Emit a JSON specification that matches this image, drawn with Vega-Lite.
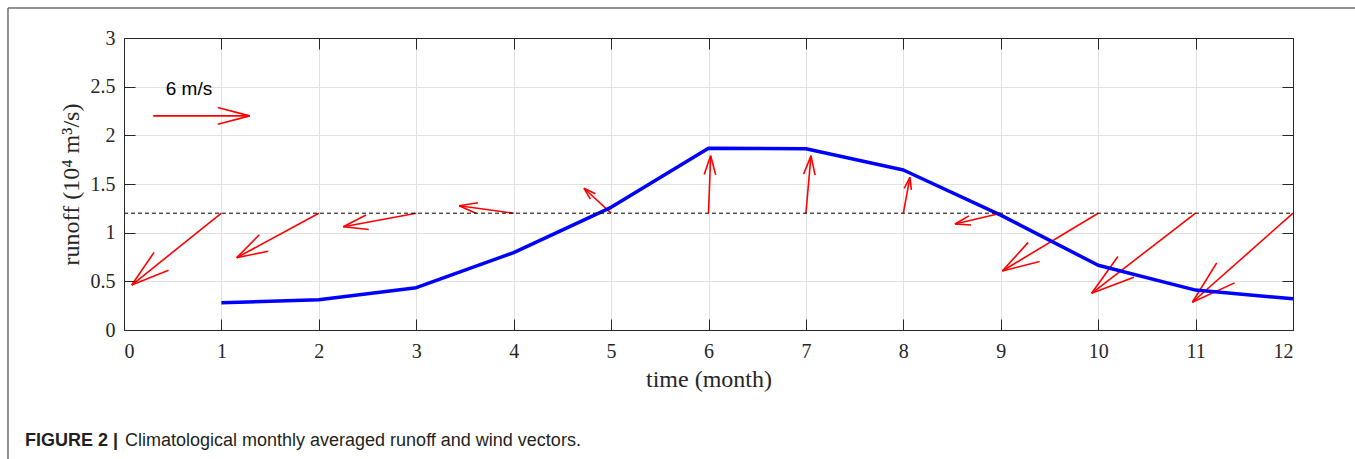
{
  "$schema": "https://vega.github.io/schema/vega-lite/v6.json",
  "width": 1169,
  "height": 292,
  "autosize": {"type": "none"},
  "padding": {"left": 124, "top": 38, "right": 62, "bottom": 129},
  "background": "white",
  "config": {
    "view": {"stroke": null},
    "axis": {
      "domain": false,
      "domainColor": "#262626",
      "domainWidth": 1,
      "tickColor": "#262626",
      "tickSize": -11,
      "tickWidth": 1,
      "gridColor": "#e2e2e2",
      "gridWidth": 1,
      "labelFont": "Liberation Serif",
      "labelFontSize": 20,
      "labelColor": "#262626",
      "titleFont": "Liberation Serif",
      "titleFontSize": 24,
      "titleFontWeight": "normal",
      "titleColor": "#262626"
    }
  },
  "datasets": {
    "runoff": [
      {"month": 1, "runoff": 0.28},
      {"month": 2, "runoff": 0.31},
      {"month": 3, "runoff": 0.435},
      {"month": 4, "runoff": 0.795},
      {"month": 5, "runoff": 1.26},
      {"month": 6, "runoff": 1.867},
      {"month": 7, "runoff": 1.862},
      {"month": 8, "runoff": 1.644},
      {"month": 9, "runoff": 1.18},
      {"month": 10, "runoff": 0.665},
      {"month": 11, "runoff": 0.41},
      {"month": 12, "runoff": 0.32}
    ],
    "wind": [
      {"arrow": "1", "part": "shaft", "x": 1, "y": 1.2, "x2": 0.079, "y2": 0.462},
      {"arrow": "1", "part": "headA", "x": 0.079, "y": 0.462, "x2": 0.457, "y2": 0.613},
      {"arrow": "1", "part": "headB", "x": 0.079, "y": 0.462, "x2": 0.309, "y2": 0.798},
      {"arrow": "2", "part": "shaft", "x": 2, "y": 1.2, "x2": 1.157, "y2": 0.743},
      {"arrow": "2", "part": "headA", "x": 1.157, "y": 0.743, "x2": 1.481, "y2": 0.81},
      {"arrow": "2", "part": "headB", "x": 1.157, "y": 0.743, "x2": 1.389, "y2": 0.978},
      {"arrow": "3", "part": "shaft", "x": 3, "y": 1.2, "x2": 2.251, "y2": 1.061},
      {"arrow": "3", "part": "headA", "x": 2.251, "y": 1.061, "x2": 2.512, "y2": 1.032},
      {"arrow": "3", "part": "headB", "x": 2.251, "y": 1.061, "x2": 2.484, "y2": 1.182},
      {"arrow": "4", "part": "shaft", "x": 4, "y": 1.2, "x2": 3.44, "y2": 1.277},
      {"arrow": "4", "part": "headA", "x": 3.44, "y": 1.277, "x2": 3.617, "y2": 1.196},
      {"arrow": "4", "part": "headB", "x": 3.44, "y": 1.277, "x2": 3.633, "y2": 1.308},
      {"arrow": "5", "part": "shaft", "x": 5, "y": 1.2, "x2": 4.722, "y2": 1.456},
      {"arrow": "5", "part": "headA", "x": 4.722, "y": 1.456, "x2": 4.788, "y2": 1.344},
      {"arrow": "5", "part": "headB", "x": 4.722, "y": 1.456, "x2": 4.839, "y2": 1.399},
      {"arrow": "6", "part": "shaft", "x": 6, "y": 1.2, "x2": 6.022, "y2": 1.791},
      {"arrow": "6", "part": "headA", "x": 6.022, "y": 1.791, "x2": 5.956, "y2": 1.598},
      {"arrow": "6", "part": "headB", "x": 6.022, "y": 1.791, "x2": 6.074, "y2": 1.594},
      {"arrow": "7", "part": "shaft", "x": 7, "y": 1.2, "x2": 7.052, "y2": 1.791},
      {"arrow": "7", "part": "headA", "x": 7.052, "y": 1.791, "x2": 6.976, "y2": 1.601},
      {"arrow": "7", "part": "headB", "x": 7.052, "y": 1.791, "x2": 7.094, "y2": 1.591},
      {"arrow": "8", "part": "shaft", "x": 8, "y": 1.2, "x2": 8.068, "y2": 1.569},
      {"arrow": "8", "part": "headA", "x": 8.068, "y": 1.569, "x2": 8.009, "y2": 1.454},
      {"arrow": "8", "part": "headB", "x": 8.068, "y": 1.569, "x2": 8.082, "y2": 1.44},
      {"arrow": "9", "part": "shaft", "x": 9, "y": 1.2, "x2": 8.53, "y2": 1.089},
      {"arrow": "9", "part": "headA", "x": 8.53, "y": 1.089, "x2": 8.696, "y2": 1.079},
      {"arrow": "9", "part": "headB", "x": 8.53, "y": 1.089, "x2": 8.674, "y2": 1.173},
      {"arrow": "10", "part": "shaft", "x": 10, "y": 1.2, "x2": 9.016, "y2": 0.606},
      {"arrow": "10", "part": "headA", "x": 9.016, "y": 0.606, "x2": 9.4, "y2": 0.704},
      {"arrow": "10", "part": "headB", "x": 9.016, "y": 0.606, "x2": 9.282, "y2": 0.9},
      {"arrow": "11", "part": "shaft", "x": 11, "y": 1.2, "x2": 9.933, "y2": 0.377},
      {"arrow": "11", "part": "headA", "x": 9.933, "y": 0.377, "x2": 10.367, "y2": 0.542},
      {"arrow": "11", "part": "headB", "x": 9.933, "y": 0.377, "x2": 10.203, "y2": 0.755},
      {"arrow": "12", "part": "shaft", "x": 12, "y": 1.2, "x2": 10.967, "y2": 0.285},
      {"arrow": "12", "part": "headA", "x": 10.967, "y": 0.285, "x2": 11.4, "y2": 0.484},
      {"arrow": "12", "part": "headB", "x": 10.967, "y": 0.285, "x2": 11.217, "y2": 0.69},
      {"arrow": "scale", "part": "shaft", "x": 0.3, "y": 2.2, "x2": 1.29, "y2": 2.2},
      {"arrow": "scale", "part": "headA", "x": 1.29, "y": 2.2, "x2": 0.963, "y2": 2.287},
      {"arrow": "scale", "part": "headB", "x": 1.29, "y": 2.2, "x2": 0.963, "y2": 2.114}
    ],
    "one": [{}]
  },
  "layer": [
    {
      "data": {"name": "wind"},
      "mark": {"type": "rule", "color": "#ff0000", "strokeWidth": 1.6},
      "encoding": {
        "x": {"field": "x", "type": "quantitative",
          "scale": {"domain": [0, 12], "nice": false, "zero": false},
          "axis": {"orient": "bottom", "values": [0,1,2,3,4,5,6,7,8,9,10,11,12], "grid": true, "ticks": false, "labels": false, "domain": false, "title": null, "zindex": 0}},
        "y": {"field": "y", "type": "quantitative",
          "scale": {"domain": [0, 3], "nice": false},
          "axis": {"orient": "left", "values": [0,0.5,1,1.5,2,2.5,3], "grid": true, "ticks": false, "labels": false, "domain": false, "title": null, "zindex": 0}},
        "x2": {"field": "x2"},
        "y2": {"field": "y2"}
      }
    },
    {
      "data": {"name": "runoff"},
      "mark": {"type": "line", "color": "#0000ff", "strokeWidth": 3.5, "strokeJoin": "round"},
      "encoding": {
        "x": {
          "field": "month", "type": "quantitative",
          "axis": {"orient": "bottom", "values": [0,1,2,3,4,5,6,7,8,9,10,11,12], "grid": false, "domain": true, "zindex": 1, "labelPadding": 22, "title": "time (month)", "titlePadding": 6}
        },
        "y": {
          "field": "runoff", "type": "quantitative",
          "axis": {"orient": "left", "values": [0,0.5,1,1.5,2,2.5,3], "format": "~g", "grid": false, "domain": true, "zindex": 1, "labelPadding": 20, "title": "runoff (10⁴ m³/s)", "titlePadding": 7}
        }
      }
    },
    {
      "data": {"name": "one"},
      "mark": {"type": "rule", "color": "black", "strokeWidth": 1, "strokeDash": [4, 3]},
      "encoding": {
        "x": {"datum": 0, "type": "quantitative", "axis": {"orient": "top", "values": [0,1,2,3,4,5,6,7,8,9,10,11,12], "labels": false, "grid": false, "domain": true, "zindex": 1, "title": null}},
        "x2": {"datum": 12},
        "y": {"datum": 1.2, "type": "quantitative", "axis": {"orient": "right", "values": [0,0.5,1,1.5,2,2.5,3], "labels": false, "grid": false, "domain": true, "zindex": 1, "title": null}}
      }
    },
    {
      "data": {"name": "one"},
      "mark": {"type": "text", "text": "6 m/s", "font": "Liberation Sans", "fontSize": 19, "color": "black", "align": "center", "baseline": "middle"},
      "encoding": {
        "x": {"datum": 0.667, "type": "quantitative", "axis": null},
        "y": {"datum": 2.48, "type": "quantitative", "axis": null}
      }
    },
    {
      "data": {"name": "one"},
      "mark": {"type": "rule", "color": "#6e6e6e", "strokeWidth": 1.5},
      "encoding": {
        "x": {"datum": -1.191, "type": "quantitative", "axis": null},
        "x2": {"datum": 12.8},
        "y": {"datum": 3.308, "type": "quantitative", "axis": null}
      }
    },
    {
      "data": {"name": "one"},
      "mark": {"type": "rule", "color": "#6e6e6e", "strokeWidth": 1.5},
      "encoding": {
        "x": {"datum": -1.191, "type": "quantitative", "axis": null},
        "y": {"datum": 3.308, "type": "quantitative", "axis": null},
        "y2": {"datum": -1.5}
      }
    },
    {
      "data": {"name": "one"},
      "mark": {"type": "text", "text": "FIGURE 2 |", "font": "Liberation Sans", "fontWeight": "bold", "fontSize": 18, "color": "#231f20", "align": "left", "baseline": "middle"},
      "encoding": {
        "x": {"datum": -1.016, "type": "quantitative", "axis": null},
        "y": {"datum": -1.14, "type": "quantitative", "axis": null}
      }
    },
    {
      "data": {"name": "one"},
      "mark": {"type": "text", "text": "Climatological monthly averaged runoff and wind vectors.", "font": "Liberation Sans", "fontSize": 18, "color": "#231f20", "align": "left", "baseline": "middle"},
      "encoding": {
        "x": {"datum": 0.01, "type": "quantitative", "axis": null},
        "y": {"datum": -1.14, "type": "quantitative", "axis": null}
      }
    }
  ],
  "resolve": {"axis": {"x": "independent", "y": "independent"}}
}
